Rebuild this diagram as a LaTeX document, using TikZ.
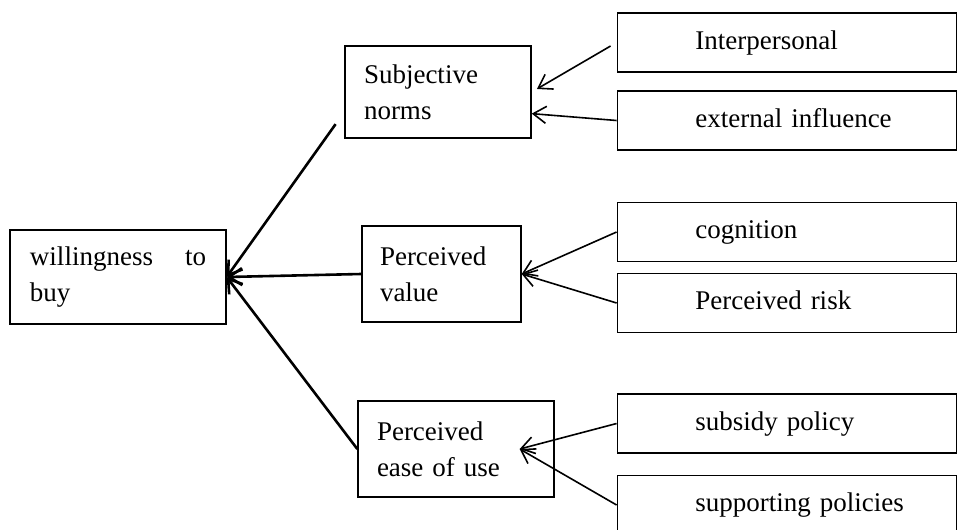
\documentclass[tikz,border=0pt]{standalone}
\usepackage{fontspec}
\setmainfont{Liberation Serif}
\usetikzlibrary{arrows.meta}

\begin{document}
\begin{tikzpicture}[
      x=1pt, y=-1pt,
      every node/.style={font=\fontsize{27}{36}\selectfont},
      box/.style={draw, line width=1.4pt, inner ysep=0pt, align=left},
      sidebox/.style={draw, line width=1.4pt, anchor=east, minimum width=339pt,
        minimum height=59pt, inner xsep=10pt, text width=319pt, align=left,
        text height=19pt, text depth=6pt, execute at begin node={\hspace*{68pt}}},
      link/.style={line width=1.6pt, -{Straight Barb[length=13pt,width=17pt]}},
      mainlink/.style={link, line width=2.6pt}
    ]
      \clip (0,0) rectangle (959,530);

      \node[box, minimum width=216pt, minimum height=94pt, inner xsep=20pt,
        text width=176pt, align=justify] (buy) at (118,277) {willingness to buy};
      \node[box, minimum width=186pt, minimum height=92pt, inner xsep=19pt,
        text width=148pt] (sn) at (438,92) {Subjective\\norms};
      \node[box, minimum width=159pt, minimum height=96pt, inner xsep=18pt,
        text width=123pt] (pv) at (441.5,274) {Perceived\\value};
      \node[box, minimum width=196pt, minimum height=96pt, inner xsep=19pt,
        text width=158pt] (peu) at (456,449) {Perceived\\ease of use};

      \node[sidebox] (ip) at (957,42.5) {Interpersonal};
      \node[sidebox] (ei) at (957,120.5) {external influence};
      \node[sidebox] (cog) at (957,232) {cognition};
      \node[sidebox] (pr) at (957,303) {Perceived risk};
      \node[sidebox] (sp) at (957,423.5) {subsidy policy};
      \node[sidebox] (sup) at (957,505) {supporting policies};

      \coordinate (peuin) at ([xshift=-35pt]peu.east);

      \draw[link, shorten <=7pt, shorten >=6pt] (ip.west) -- (sn.east);
      \draw[link] (ei.west) -- (sn.-13);
      \draw[link] (cog.west) -- (pv.east);
      \draw[link] (pr.west) -- (pv.east);
      \draw[link] (sp.west) -- (peuin);
      \draw[link] (sup.west) -- (peuin);

      \draw[mainlink, shorten <=15pt] (sn.192) -- (buy.east);
      \draw[mainlink] (pv.west) -- (buy.east);
      \draw[mainlink] (peu.west) -- (buy.east);
    \end{tikzpicture}
\end{document}
